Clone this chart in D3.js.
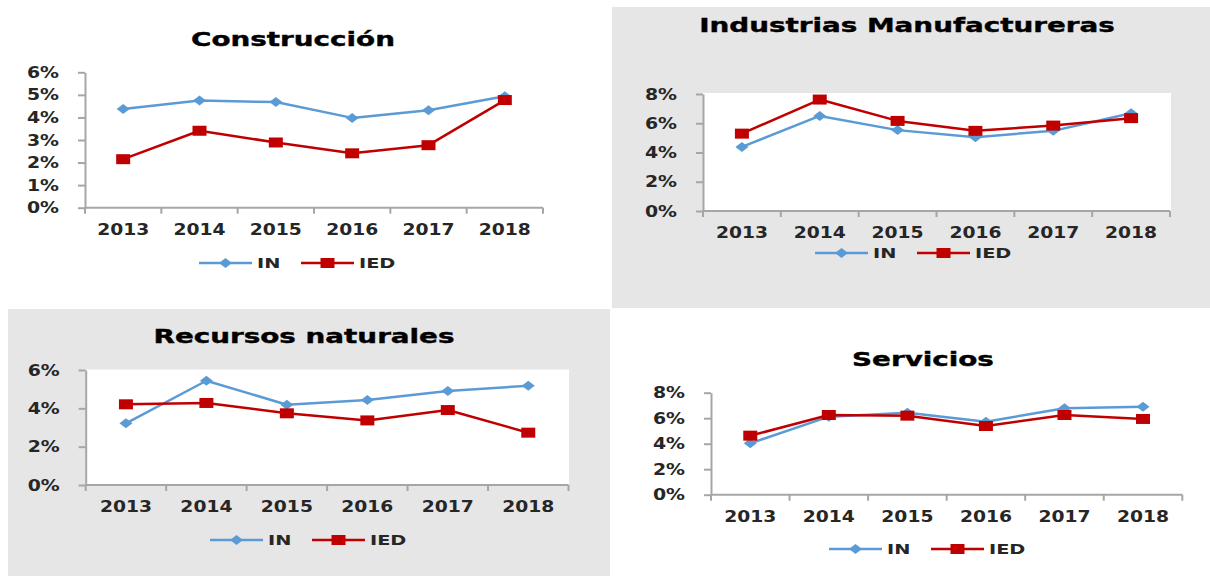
<!DOCTYPE html>
<html>
<head>
<meta charset="utf-8">
<script src="https://cdn.jsdelivr.net/npm/d3@7"></script>
<style>
  body { margin: 0; background: #fff; }
  svg { display: block; }
</style>
</head>
<body>
<script>
// data (% values)
const years = ["2013", "2014", "2015", "2016", "2017", "2018"];
const seriesNames = ["IN", "IED"];

const construccionIN  = [4.37, 4.75, 4.68, 3.98, 4.32, 4.94];
const construccionIED = [2.15, 3.41, 2.89, 2.41, 2.77, 4.77];

const manufacturaIN  = [4.38, 6.50, 5.53, 5.05, 5.48, 6.69];
const manufacturaIED = [5.29, 7.62, 6.16, 5.48, 5.84, 6.35];

const recursosIN  = [3.22, 5.44, 4.19, 4.43, 4.90, 5.18];
const recursosIED = [4.21, 4.28, 3.74, 3.37, 3.91, 2.73];

const serviciosIN  = [4.03, 6.12, 6.43, 5.73, 6.78, 6.90];
const serviciosIED = [4.63, 6.25, 6.20, 5.39, 6.25, 5.94];

const ticksConstruccion = [0, 1, 2, 3, 4, 5, 6];
const ticksManufactura  = [0, 2, 4, 6, 8];
const ticksRecursos     = [0, 2, 4, 6];
const ticksServicios    = [0, 2, 4, 6, 8];

const width = 1210, height = 576;
const colorIN = "#5b9bd5", colorIED = "#c00000";
const gray = "#e6e6e6", axisColor = "#a6a6a6", textColor = "#262626";
const font = "DejaVu Sans, Verdana, sans-serif";

let panels = [
    {title: "Construcción", vals: [construccionIN, construccionIED], ticks: ticksConstruccion,
     bg: null, plotBg: null,
     x0: 85, x1: 543, yTop: 72.3, yBot: 207.7,
     titleX: 293, titleY: 45.7, legendX: 199, legendY: 263},
    {title: "Industrias Manufactureras", vals: [manufacturaIN, manufacturaIED], ticks: ticksManufactura,
     bg: {x: 612, y: 7, w: 598, h: 301}, plotBg: {x: 703, y: 93, w: 468, h: 118},
     x0: 703, x1: 1170, yTop: 94, yBot: 211,
     titleX: 907, titleY: 32.3, legendX: 815, legendY: 253},
    {title: "Recursos naturales", vals: [recursosIN, recursosIED], ticks: ticksRecursos,
     bg: {x: 8, y: 309, w: 602, h: 267}, plotBg: {x: 85.7, y: 369.5, w: 483.3, h: 115.5},
     x0: 85.7, x1: 568.5, yTop: 370, yBot: 485,
     titleX: 304, titleY: 342.7, legendX: 210, legendY: 540},
    {title: "Servicios", vals: [serviciosIN, serviciosIED], ticks: ticksServicios,
     bg: null, plotBg: null,
     x0: 711, x1: 1182.3, yTop: 392.7, yBot: 494.7,
     titleX: 923, titleY: 365.7, legendX: 829, legendY: 549}
];

let svg = d3.select("body")
    .append("svg")
    .attr("width", width)
    .attr("height", height);

svg.append("rect")
    .attr("width", width)
    .attr("height", height)
    .attr("fill", "#fff");

// stretched text, the source image is widened horizontally
const stretchText = (g, str, x, y, size, sx, anchor, fill) => {
    return g.append("text")
        .attr("transform", `translate(${x},${y}) scale(${sx},1)`)
        .attr("text-anchor", anchor)
        .style("font-family", font)
        .style("font-size", size + "px")
        .style("font-weight", "bold")
        .style("fill", fill || textColor)
        .text(str);
};

const diamondPath = "M0,-5L6.5,0L0,5L-6.5,0Z";
const squarePath = "M-7,-5H7V5H-7Z";

const drawMarker = (g, shape, color, cx, cy) => {
    g.append("path")
        .attr("d", shape === "diamond" ? diamondPath : squarePath)
        .attr("transform", `translate(${cx},${cy})`)
        .attr("fill", color);
};

panels.forEach(p => {
    let g = svg.append("g").attr("class", "panel");

    if (p.bg) {
        g.append("rect")
            .attr("x", p.bg.x).attr("y", p.bg.y)
            .attr("width", p.bg.w).attr("height", p.bg.h)
            .attr("fill", gray);
    }
    if (p.plotBg) {
        g.append("rect")
            .attr("x", p.plotBg.x).attr("y", p.plotBg.y)
            .attr("width", p.plotBg.w).attr("height", p.plotBg.h)
            .attr("fill", "#fff");
    }

    let x = d3.scaleBand()
        .domain(years)
        .range([p.x0, p.x1]);
    let y = d3.scaleLinear()
        .domain([0, d3.max(p.ticks)])
        .range([p.yBot, p.yTop]);
    let bw = x.bandwidth();

    // y axis (line + ticks) from d3, labels drawn separately
    let yAxis = g.append("g")
        .attr("transform", `translate(${p.x0},0)`)
        .call(d3.axisLeft(y).tickValues(p.ticks).tickSize(7).tickSizeOuter(0).tickFormat(""));
    yAxis.select(".domain").attr("stroke", axisColor).attr("stroke-width", 2);
    yAxis.selectAll(".tick line").attr("stroke", axisColor).attr("stroke-width", 2);

    p.ticks.forEach(t => {
        stretchText(g, t + "%", p.x0 - 26, y(t) + 5.5, 16, 1.18, "end");
    });

    // x axis with ticks between categories
    g.append("line")
        .attr("x1", p.x0).attr("x2", p.x1)
        .attr("y1", p.yBot).attr("y2", p.yBot)
        .attr("stroke", axisColor).attr("stroke-width", 2);
    let bounds = years.map(d => x(d)).concat([p.x1]);
    g.selectAll(".xtick")
        .data(bounds)
        .enter().append("line")
        .attr("x1", d => d).attr("x2", d => d)
        .attr("y1", p.yBot).attr("y2", p.yBot + 6)
        .attr("stroke", axisColor).attr("stroke-width", 2);

    years.forEach(yr => {
        stretchText(g, yr, x(yr) + bw / 2, p.yBot + 27, 16, 1.17, "middle");
    });

    // series
    let line = d3.line()
        .x((d, i) => x(years[i]) + bw / 2)
        .y(d => y(d));

    p.vals.forEach((vals, k) => {
        let color = k === 0 ? colorIN : colorIED;
        g.append("path")
            .datum(vals)
            .attr("d", line)
            .attr("fill", "none")
            .attr("stroke", color)
            .attr("stroke-width", 2.5)
            .attr("stroke-linejoin", "round");
        vals.forEach((v, i) => {
            drawMarker(g, k === 0 ? "diamond" : "square", color, x(years[i]) + bw / 2, y(v));
        });
    });

    // title
    stretchText(g, p.title, p.titleX, p.titleY, 20, 1.39, "middle", "#000")
        .style("stroke", "#000").style("stroke-width", 0.4);

    // legend
    seriesNames.forEach((name, k) => {
        let lx = p.legendX + k * 102;
        let color = k === 0 ? colorIN : colorIED;
        g.append("line")
            .attr("x1", lx).attr("x2", lx + 53)
            .attr("y1", p.legendY).attr("y2", p.legendY)
            .attr("stroke", color).attr("stroke-width", 2.5);
        drawMarker(g, k === 0 ? "diamond" : "square", color, lx + 26.5, p.legendY);
        stretchText(g, name, lx + 58, p.legendY + 5, 14, 1.38, "start");
    });
});
</script>
</body>
</html>
